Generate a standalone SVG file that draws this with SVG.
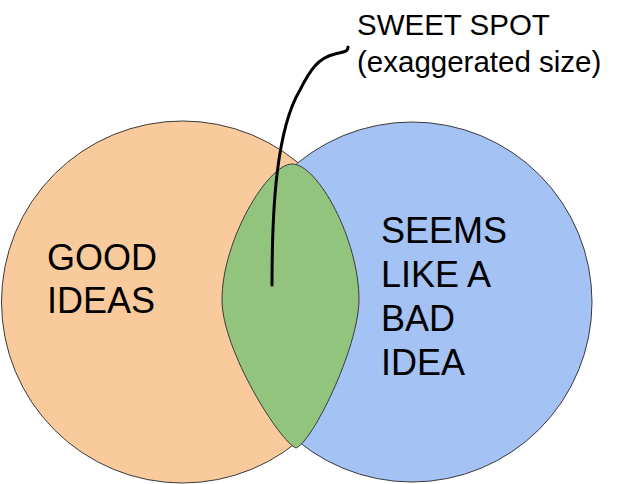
<svg xmlns="http://www.w3.org/2000/svg" width="619" height="484" viewBox="0 0 619 484">
<style>
.shape{stroke:#3a3a3a;stroke-width:1}
.lbl{font-family:"Liberation Sans",Arial,sans-serif;font-size:36px;fill:#000}
.note{font-family:"Liberation Sans",Arial,sans-serif;font-size:29.5px;fill:#000}
.conn{fill:none;stroke:#000;stroke-width:3;stroke-linecap:round}
</style>
<rect width="619" height="484" fill="#fff"/>
<g id="good-ideas">
<circle class="shape" cx="182.5" cy="302" r="181" fill="#f9cb9c"/>
<text class="lbl" x="47" y="270">GOOD</text>
<text class="lbl" x="47" y="313">IDEAS</text>
</g>
<g id="bad-idea">
<circle class="shape" cx="412" cy="302" r="180" fill="#a4c2f4"/>
<text class="lbl" x="381" y="243">SEEMS</text>
<text class="lbl" x="381" y="287">LIKE A</text>
<text class="lbl" x="381" y="331">BAD</text>
<text class="lbl" x="381" y="375">IDEA</text>
</g>
<g id="sweet-spot">
<path class="shape" fill="#93c47d" d="M 292,164 C 318,164 359,240 359,300 C 358,350 312,442 296,448 C 280,442 222,350 222,300 C 222,240 268,164 292,164 Z"/>
</g>
<g id="callout-label">
<text class="note" x="357" y="35">SWEET SPOT</text>
<text class="note" x="357" y="72">(exaggerated size)</text>
</g>
<g id="connectors">
<path class="conn" d="M 272,285 C 272,210 276,130 300,90 C 310,70 318,58 335,54 C 343,52 348,52 348,47"/>
</g>
</svg>
